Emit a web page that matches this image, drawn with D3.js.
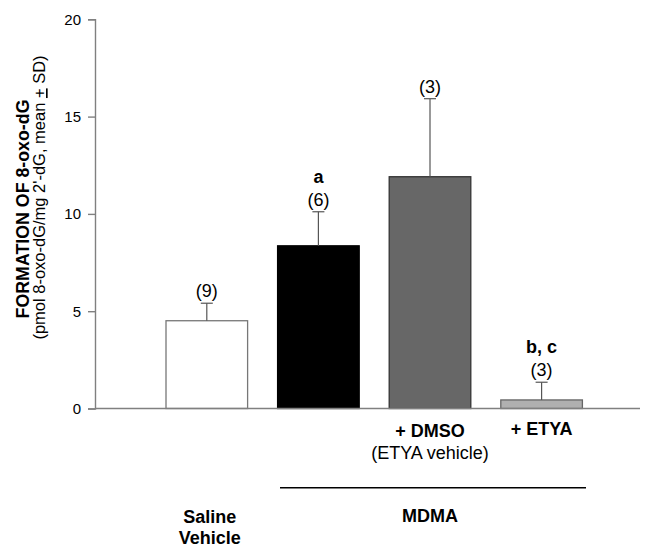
<!DOCTYPE html>
<html><head><meta charset="utf-8">
<script src="https://cdn.jsdelivr.net/npm/d3@7"></script>
<style>body{margin:0;background:#fff}svg{display:block}text{font-family:"Liberation Sans",Arial,sans-serif}</style>
</head><body><div id="chart"></div>
<script>
const categories = ["Saline", "MDMA", "MDMA + DMSO", "MDMA + ETYA"];
const means = [4.51, 8.36, 11.91, 0.44];
const sds = [0.90, 1.75, 4.01, 0.91];
const nLabels = ["(9)", "(6)", "(3)", "(3)"];
const sigLabels = ["", "a", "", "b, c"];
const yTicks = [0, 5, 10, 15, 20];
const fills = ["#ffffff", "#000000", "#676767", "#b0b0b0"];
const strokes = ["#777777", "#000000", "#333333", "#666666"];

const W = 645, H = 546;
const svg = d3.select("#chart").append("svg").attr("width", W).attr("height", H);

const x = d3.scaleBand().domain(categories).range([151, 597.4]).paddingInner(0.2688).paddingOuter(0.1344);
const y = d3.scaleLinear().domain([0, 20]).range([408.5, 19.3]);

// y axis
const yAxis = svg.append("g").attr("transform", "translate(95,0)")
  .call(d3.axisLeft(y).tickValues(yTicks).tickSize(7).tickPadding(7).tickFormat(d3.format("d")));
yAxis.select(".domain").attr("stroke", "#808080").attr("stroke-width", 1.4);
yAxis.selectAll(".tick line").attr("stroke", "#808080").attr("stroke-width", 1.4);
yAxis.selectAll(".tick text").attr("font-size", 15).attr("fill", "#000").attr("font-family", "Liberation Sans, Arial, sans-serif");

// bars
svg.selectAll("rect.bar").data(categories).enter().append("rect")
  .attr("x", d => x(d)).attr("width", x.bandwidth())
  .attr("y", (d, i) => y(means[i])).attr("height", (d, i) => y(0) - y(means[i]))
  .attr("fill", (d, i) => fills[i]).attr("stroke", (d, i) => strokes[i]).attr("stroke-width", 1.3);

// error bars
categories.forEach((c, i) => {
  const cx = x(c) + x.bandwidth() / 2;
  const top = y(means[i] + sds[i]);
  svg.append("line").attr("x1", cx).attr("x2", cx).attr("y1", y(means[i])).attr("y2", top)
    .attr("stroke", "#555").attr("stroke-width", 1.2);
  svg.append("line").attr("x1", cx - 6).attr("x2", cx + 6).attr("y1", top).attr("y2", top)
    .attr("stroke", "#555").attr("stroke-width", 1.2);
  svg.append("text").attr("x", cx).attr("y", top - 6).attr("text-anchor", "middle")
    .attr("font-size", 18).text(nLabels[i]);
  if (sigLabels[i]) {
    svg.append("text").attr("x", cx).attr("y", top - 29).attr("text-anchor", "middle")
      .attr("font-size", 18).attr("font-weight", "bold").text(sigLabels[i]);
  }
});

// x axis line
svg.append("line").attr("x1", 95).attr("x2", 640).attr("y1", y(0)).attr("y2", y(0))
  .attr("stroke", "#808080").attr("stroke-width", 1.4);

// x labels
const cxOf = i => x(categories[i]) + x.bandwidth() / 2;
svg.append("text").attr("x", cxOf(2)).attr("y", 436.5).attr("text-anchor", "middle")
  .attr("font-size", 18).attr("font-weight", "bold").text("+ DMSO");
svg.append("text").attr("x", cxOf(2)).attr("y", 458.5).attr("text-anchor", "middle")
  .attr("font-size", 18).text("(ETYA vehicle)");
svg.append("text").attr("x", cxOf(3)).attr("y", 434.5).attr("text-anchor", "middle")
  .attr("font-size", 18).attr("font-weight", "bold").text("+ ETYA");
svg.append("line").attr("x1", 280).attr("x2", 586).attr("y1", 487.7).attr("y2", 487.7)
  .attr("stroke", "#000").attr("stroke-width", 1.6);
svg.append("text").attr("x", cxOf(2)).attr("y", 521.5).attr("text-anchor", "middle")
  .attr("font-size", 18).attr("font-weight", "bold").text("MDMA");
svg.append("text").attr("x", cxOf(0) + 3).attr("y", 523).attr("text-anchor", "middle")
  .attr("font-size", 18).attr("font-weight", "bold").text("Saline");
svg.append("text").attr("x", cxOf(0) + 3).attr("y", 543.5).attr("text-anchor", "middle")
  .attr("font-size", 18).attr("font-weight", "bold").text("Vehicle");

// y title
svg.append("text").attr("transform", "translate(28.5,209) rotate(-90)").attr("text-anchor", "middle")
  .attr("font-size", 17.8).attr("font-weight", "bold").text("FORMATION OF 8-oxo-dG");
const t2 = svg.append("text").attr("transform", "translate(45,197.5) rotate(-90)").attr("text-anchor", "middle")
  .attr("font-size", 16.5);
t2.append("tspan").text("(pmol 8-oxo-dG/mg 2'-dG, mean ");
t2.append("tspan").attr("text-decoration", "underline").text("+");
t2.append("tspan").text(" SD)");
</script></body></html>
